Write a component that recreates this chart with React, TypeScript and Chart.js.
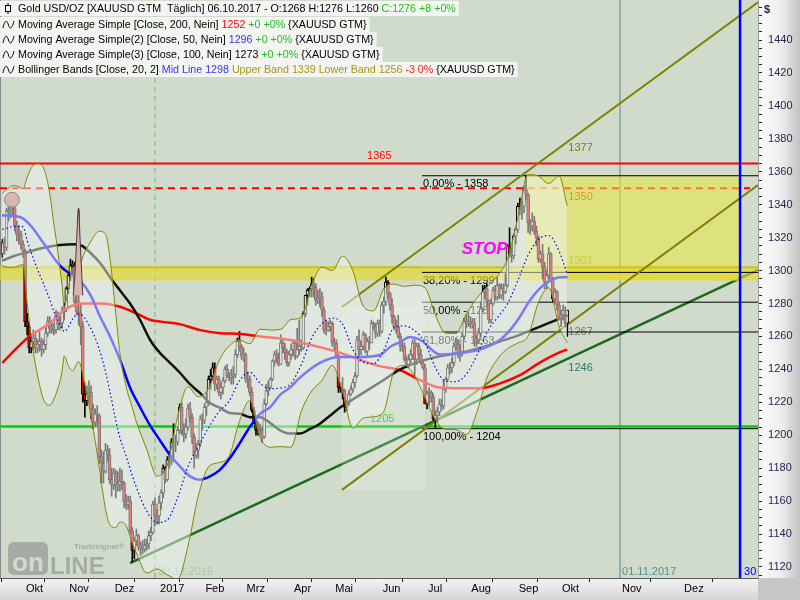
import React, { useEffect, useRef } from "react";
import { Chart, registerables } from "chart.js";

Chart.register(...registerables);

// ---------------- data (trading-day index 0 = 19.09.2016) ----------------
const openPrices = [
  1310,1317,1314,1336,1337,1338,1338,1327,1322,1322,
  1316,1312,1269,1266,1253,1257,1259,1253,1255,1257,
  1252,1255,1262,1269,1265,1266,1264,1273,1267,1268,
  1275,1277,1289,1297,1303,1304,1281,1275,1274,1266,
  1225,1221,1225,1226,1216,1208,1213,1212,1187,1183,
  1178,1191,1188,1173,1170,1177,1169,1170,1172,1171,
  1160,1158,1160,1142,1130,1136,1139,1132,1133,1131,
  1133,1134,1139,1141,1158,1151,1151,1159,1165,1180,
  1173,1185,1185,1196,1196,1196,1203,1217,1203,1201,
  1205,1216,1211,1199,1188,1191,1195,1210,1209,1217,
  1220,1234,1236,1241,1231,1234,1226,1229,1233,1240,
  1236,1235,1236,1237,1249,1257,1254,1248,1249,1234,
  1234,1226,1215,1209,1203,1204,1203,1199,1219,1227,
  1229,1234,1245,1249,1247,1243,1256,1253,1250,1244,
  1249,1252,1256,1248,1252,1254,1253,1274,1285,1288,
  1289,1292,1290,1282,1283,1284,1276,1264,1264,1266,
  1268,1256,1256,1248,1229,1228,1227,1217,1219,1225,
  1228,1232,1236,1258,1252,1254,1261,1251,1257,1256,
  1268,1266,1262,1268,1263,1279,1281,1293,1286,1279,
  1272,1266,1266,1260,1254,1254,1246,1243,1246,1249,
  1256,1246,1254,1249,1244,1241,1219,1225,1226,1223,
  1210,1212,1214,1219,1218,1228,1234,1241,1241,1244,
  1254,1255,1250,1250,1260,1269,1268,1269,1267,1268,
  1257,1258,1262,1277,1287,1289,1282,1270,1280,1288,
  1284,1291,1285,1289,1287,1291,1315,1310,1309,1321,
  1325,1339,1339,1339,1349,1346,1329,1327,1330,1324,
  1320,1307,1310,1302,1293,1297,1310,1294,1283,1287,
  1279,1270,1273,1276,1268,
];
const highPrices = [
  1319,1320,1338,1343,1342,1341,1339,1330,1327,1324,
  1318,1313,1274,1268,1261,1264,1262,1258,1263,1259,
  1258,1265,1272,1272,1269,1268,1276,1275,1272,1278,
  1280,1290,1298,1307,1306,1305,1285,1337,1280,1269,
  1232,1230,1233,1230,1219,1216,1218,1213,1191,1190,
  1195,1194,1192,1180,1180,1179,1178,1180,1179,1172,
  1164,1163,1163,1144,1138,1143,1140,1135,1136,1137,
  1137,1142,1144,1160,1162,1155,1163,1167,1182,1181,
  1187,1190,1198,1207,1200,1205,1219,1220,1207,1210,
  1219,1220,1213,1201,1195,1197,1212,1213,1219,1226,
  1236,1240,1244,1244,1236,1236,1232,1235,1242,1243,
  1238,1240,1242,1252,1259,1263,1255,1253,1250,1238,
  1236,1229,1217,1212,1208,1207,1205,1222,1231,1233,
  1235,1246,1251,1252,1250,1261,1258,1256,1252,1251,
  1255,1258,1258,1265,1270,1258,1275,1285,1289,1290,
  1296,1295,1292,1288,1289,1287,1278,1270,1269,1270,
  1269,1259,1258,1249,1232,1235,1228,1221,1227,1230,
  1234,1238,1260,1264,1257,1263,1262,1259,1260,1270,
  1269,1268,1270,1270,1281,1284,1296,1294,1287,1283,
  1273,1270,1273,1262,1257,1256,1248,1249,1252,1258,
  1258,1256,1256,1252,1246,1243,1227,1229,1227,1225,
  1215,1217,1222,1222,1233,1235,1243,1244,1247,1256,
  1259,1258,1255,1262,1271,1273,1275,1272,1271,1271,
  1261,1265,1281,1291,1291,1292,1282,1283,1290,1291,
  1296,1292,1292,1292,1298,1316,1326,1314,1322,1326,
  1341,1344,1342,1351,1358,1347,1331,1335,1333,1327,
  1321,1312,1316,1305,1300,1314,1311,1296,1289,1288,
  1281,1276,1279,1278,1276,
];
const lowPrices = [
  1308,1310,1312,1330,1332,1333,1324,1318,1316,1313,
  1308,1266,1261,1250,1250,1252,1250,1250,1251,1248,
  1250,1252,1260,1262,1262,1261,1262,1264,1264,1265,
  1270,1275,1286,1294,1297,1278,1273,1267,1255,1220,
  1211,1218,1220,1210,1204,1205,1205,1183,1171,1171,
  1177,1184,1171,1163,1167,1162,1166,1166,1167,1156,
  1155,1155,1140,1123,1125,1133,1130,1127,1128,1129,
  1130,1131,1136,1140,1145,1146,1146,1155,1162,1171,
  1172,1180,1182,1184,1190,1194,1201,1200,1196,1198,
  1203,1208,1195,1180,1186,1186,1193,1203,1207,1212,
  1218,1228,1233,1227,1228,1224,1222,1225,1232,1235,
  1233,1231,1231,1235,1247,1251,1246,1245,1232,1229,
  1224,1214,1207,1200,1200,1200,1196,1198,1218,1224,
  1228,1233,1242,1244,1242,1243,1250,1246,1242,1242,
  1246,1248,1246,1247,1249,1251,1252,1272,1279,1284,
  1284,1284,1279,1280,1278,1272,1262,1261,1263,1263,
  1254,1251,1247,1226,1226,1222,1214,1215,1218,1224,
  1226,1229,1235,1245,1249,1252,1250,1248,1252,1256,
  1264,1259,1260,1260,1262,1274,1279,1283,1276,1268,
  1264,1262,1259,1251,1251,1245,1241,1241,1244,1246,
  1236,1243,1246,1243,1240,1219,1216,1218,1220,1209,
  1204,1208,1212,1215,1216,1226,1233,1237,1238,1242,
  1252,1247,1245,1248,1258,1265,1266,1265,1265,1254,
  1254,1256,1260,1275,1283,1278,1268,1268,1279,1282,
  1282,1283,1283,1282,1286,1290,1308,1305,1307,1316,
  1323,1334,1331,1335,1343,1323,1322,1324,1322,1315,
  1305,1305,1295,1289,1289,1295,1294,1281,1280,1276,
  1270,1266,1270,1266,1260,
];
const closePrices = [
  1317,1314,1336,1337,1338,1338,1327,1322,1322,1316,
  1312,1269,1266,1253,1257,1259,1253,1255,1257,1252,
  1255,1262,1269,1265,1266,1264,1273,1267,1268,1275,
  1277,1289,1297,1303,1304,1281,1275,1274,1266,1225,
  1221,1225,1226,1216,1208,1213,1212,1187,1183,1178,
  1191,1188,1173,1170,1177,1169,1170,1172,1171,1160,
  1158,1160,1142,1130,1136,1139,1132,1133,1131,1133,
  1134,1139,1141,1158,1151,1151,1159,1165,1180,1173,
  1185,1185,1196,1196,1196,1203,1217,1203,1201,1205,
  1216,1211,1199,1188,1191,1195,1210,1209,1217,1220,
  1234,1236,1241,1231,1234,1226,1229,1233,1240,1236,
  1235,1236,1237,1249,1257,1254,1248,1249,1234,1234,
  1226,1215,1209,1203,1204,1203,1199,1219,1227,1229,
  1234,1245,1249,1247,1243,1256,1253,1250,1244,1249,
  1252,1256,1248,1252,1254,1253,1274,1285,1288,1289,
  1292,1290,1282,1283,1284,1276,1264,1264,1266,1268,
  1256,1256,1248,1229,1228,1227,1217,1219,1225,1228,
  1232,1236,1258,1252,1254,1261,1251,1257,1256,1268,
  1266,1262,1268,1263,1279,1281,1293,1286,1279,1272,
  1266,1266,1260,1254,1254,1246,1243,1246,1249,1256,
  1246,1254,1249,1244,1241,1219,1225,1226,1223,1210,
  1212,1214,1219,1218,1228,1234,1241,1241,1244,1254,
  1255,1250,1250,1260,1269,1268,1269,1267,1268,1257,
  1258,1262,1277,1287,1289,1282,1270,1280,1288,1284,
  1291,1285,1289,1287,1291,1315,1310,1309,1321,1325,
  1339,1339,1339,1349,1346,1329,1327,1330,1324,1320,
  1307,1310,1302,1293,1297,1310,1294,1283,1287,1279,
  1270,1273,1276,1268,1276,
];

// Bollinger Bands (20,2) read at sample bars
const bandIdx = [0,3,5,8,10,12,15,17,20,23,25,26,28,29,30,32,34,37,40,42,45,47,50,52,55,57,60,63,65,70,75,80,85,90,95,100,105,110,115,120,125,130,135,140,145,150,155,160,165,170,175,180,185,190,195,200,205,210,215,220,225,230,235,240,245,250,255,260,265,270,274];
const bandUpper = [1347,1350,1351.6,1351,1349.6,1356.6,1364,1364.8,1362.3,1346.6,1328,1319.6,1300.7,1290.3,1278.1,1289.2,1301.9,1302.7,1311.4,1315.8,1321.8,1323.9,1322.1,1309.1,1273.9,1249.7,1229.6,1216.8,1208.1,1191.5,1175.2,1182,1211.4,1229.4,1223.4,1228.4,1245,1254.2,1257.8,1255.5,1264.4,1263.9,1264.3,1270.3,1271.4,1291.2,1302.1,1300,1308.7,1299.9,1278.4,1275.6,1288.9,1291.8,1290.4,1291.1,1289.6,1273,1262,1261.8,1273.6,1283,1290,1296.5,1307,1332,1358.3,1357.4,1352.9,1357.4,1339.3];
const bandMid = [1325,1326,1326.8,1327,1326.6,1318.4,1307.4,1300.8,1291.9,1282.4,1275,1272.4,1266.9,1264.9,1263.1,1265.7,1270.5,1273.7,1271,1267,1259.2,1252.1,1238.7,1227.5,1208.9,1198.5,1187.4,1175.6,1168.3,1153.9,1147,1148.6,1162,1181,1193.2,1204.6,1214.2,1220.8,1233.2,1238.3,1231.6,1228.3,1228.7,1231.5,1243,1259,1267.7,1271.2,1267.5,1252.1,1244.4,1243.4,1251.7,1265.4,1266.4,1263.5,1256.2,1241.2,1232.8,1232.6,1237,1248.2,1262.4,1271.3,1279.8,1294,1309.3,1319,1321.3,1311.8,1297.8];
const bandLower = [1303,1302,1302,1303,1303.6,1280.2,1250.8,1236.7,1221.5,1218.2,1222,1225.2,1233.1,1239.5,1248.1,1242.2,1239.1,1244.7,1230.6,1218.2,1196.6,1180.3,1155.3,1145.9,1143.9,1147.3,1145.2,1134.4,1128.5,1116.3,1118.8,1115.2,1112.6,1132.6,1163,1180.8,1183.4,1187.4,1208.6,1221.1,1198.8,1192.7,1193.1,1192.7,1214.6,1226.8,1233.3,1242.4,1226.3,1204.3,1210.4,1211.2,1214.5,1239,1242.4,1235.9,1222.8,1209.4,1203.6,1203.4,1200.4,1213.4,1234.8,1246.1,1252.6,1256,1260.3,1280.6,1289.7,1266.2,1256.3];

// Moving averages read at sample bars
const ma200Idx = [0,13,23,30,38,48,57,65,72,77,86,95.5,105.5,115.5,125,139,144,154,164,173,183,193,202.5,212,222,231.5,241.5,251,260.5,270.5,274];
const ma200Val = [1244,1260,1268,1276,1280,1280,1278,1274,1270,1269,1267.5,1264,1262,1261.5,1260,1258,1256.5,1253.5,1250,1246,1242,1239.5,1233.5,1229,1228.5,1228.5,1231.5,1236.5,1244,1250.5,1252];
const ma50Idx = [0,8.5,13.4,20.6,27.9,32.8,37.6,42.8,47.4,52.2,57,61.9,66.8,71.6,76.4,81.3,86.2,91,95.8,100.7,105.5,110.3,115.3,120,125,129.8,134.7,139.5,144.3,154,163.7,173.5,183,188,192.9,197.7,202.6,212.3,222,231.6,241.4,246.3,251,255.9,260.8,265.6,270.4,274];
const ma50Val = [1333.5,1332.5,1327.7,1315.5,1303,1298,1294,1285,1272,1260,1246,1229,1217,1206,1197,1188,1181,1175,1173,1175,1179,1186,1195.5,1205,1213,1217,1224.5,1229,1235,1244,1247.5,1247.5,1248.7,1253.6,1256.6,1259.7,1258,1249,1250,1252,1258,1264,1272,1282,1289.4,1293.7,1296,1296];
const ma100Idx = [0,6,13.4,20.6,27.9,35.2,38.6,42.5,47.4,52.2,57,61.9,66.8,71.6,76.4,81.3,86.2,91,95.8,100.7,105.5,110.3,115.3,120,125,129.8,134.7,139.5,144.3,149.2,154,159,164,169,174,183,193,203,212,222,231.5,241.5,251,260.8,270.5,274];
const ma100Val = [1306,1309,1311.6,1314,1315.5,1316,1315,1311,1304.6,1296,1288,1280,1270,1258,1250,1244,1237.8,1231,1225.7,1219.6,1216.6,1213.5,1213,1211,1211,1207.5,1203,1201,1201,1203.8,1207,1212,1217,1221,1225,1232,1240,1245,1248,1250,1253,1257,1261,1266,1271,1273];

// axis
const monthTickIdx = [10,31,53,75,97,117,140,160,183,205,226,249,270,299.1,329.2];
const monthLabels = ["Okt","Nov","Dez","2017","Feb","Mrz","Apr","Mai","Jun","Jul","Aug","Sep","Okt","Nov","Dez"];
const priceLabels = [1120,1140,1160,1180,1200,1220,1240,1260,1280,1300,1320,1340,1360,1380,1400,1420,1440];

// drawing levels
const resistanceLevel = 1365;
const prevHighLevel = 1350;
const supportLevel = 1205.3;
const zoneTop = 1302;
const zoneBottom = 1294;
const targetTop = 1357.6;
const fibValues = [1357.6, 1298.9, 1280.8, 1262.7, 1204];
const fibLabels = ["0,00% - 1358", "38,20% - 1299", "50,00% - 1281", "61,80% - 1263", "100,00% - 1204"];
const channelIdx = [164.7, 366.5];
const channelUpperVal = [1277.9, 1463];
const channelLowerVal = [1166.8, 1352];
const channelBoxIdx = [164.7, 205];
const trendIdx = [61.9, 366.5];
const trendVal = [1122.4, 1300.4];
const yearEndIdx = 74;
const monthLineIdx = 299.6;
const cycleLineIdx = 357.8;
const swingHighIdx = 4.6;
const swingHighVal = 1343;
const spikeIdx = [34.4, 35.2, 36.0, 36.6, 36.9, 37.3, 38.0, 38.6, 39.0];
const spikeVal = [1285, 1298, 1318, 1334, 1338, 1330, 1310, 1295, 1285];

const X_MIN = -1.16, X_MAX = 366.5, Y_MIN = 1113.3, Y_MAX = 1464.3;
const FONT = "'Liberation Sans', Arial, sans-serif";
const BG = "#d0dbcc";

const pts = (xs: number[], ys: number[]) => xs.map((x, i) => ({ x, y: ys[i] }));
const seg = (x0: number, y0: number, x1: number, y1: number) => [{ x: x0, y: y0 }, { x: x1, y: y1 }];
const base = { pointRadius: 0, pointHoverRadius: 0, fill: false, tension: 0 };

function txt(ctx: any, s: string, x: number, y: number, color: string, font: string, align = "left", baseline = "alphabetic") {
  ctx.fillStyle = color;
  ctx.font = font;
  ctx.textAlign = align;
  ctx.textBaseline = baseline;
  ctx.fillText(s, x, y);
}

const bgPlugin = {
  id: "bgPlugin",
  beforeDraw(chart: any) {
    const { ctx, chartArea: a, width, height } = chart;
    ctx.save();
    ctx.fillStyle = BG;
    ctx.fillRect(a.left, a.top, a.right - a.left, a.bottom - a.top);
    const g = ctx.createLinearGradient(a.right, 0, width, 0);
    g.addColorStop(0, "#fbfbfb");
    g.addColorStop(0.55, "#eeeeee");
    g.addColorStop(1, "#c2c2c2");
    ctx.fillStyle = g;
    ctx.fillRect(a.right, 0, width - a.right, a.bottom);
    const g2 = ctx.createLinearGradient(0, a.bottom, 0, height);
    g2.addColorStop(0, "#f4f4f4");
    g2.addColorStop(1, "#d6d6d6");
    ctx.fillStyle = g2;
    ctx.fillRect(0, a.bottom, a.right, height - a.bottom);
    ctx.fillStyle = "#c6c6c6";
    ctx.fillRect(a.right, a.bottom, width - a.right, height - a.bottom);
    ctx.fillStyle = "#8a8a8a";
    ctx.fillRect(0, 0, 1, a.bottom);
    ctx.restore();
  },
};

const underTextPlugin = {
  id: "underText",
  beforeDatasetsDraw(chart: any) {
    const { ctx, scales } = chart;
    const X = (v: number) => scales.x.getPixelForValue(v);
    const Y = (v: number) => scales.y.getPixelForValue(v);
    const f11 = `11px ${FONT}`;
    ctx.save();
    // watermark
    ctx.fillStyle = "#a5aca5";
    ctx.beginPath();
    (ctx as any).roundRect(8, 542, 40, 33, 6);
    ctx.fill();
    txt(ctx, "on", 28, 571, "#d2d9d1", `bold 26px ${FONT}`, "center");
    txt(ctx, "LINE", 50, 574, "#a5aca5", `bold 24px ${FONT}`);
    txt(ctx, "Tradesignal\u00ae", 74, 549, "#a5aca5", `bold 8px ${FONT}`);
    // level labels
    txt(ctx, "1365", X(176.9), Y(resistanceLevel) - 2, "#ff0000", f11, "left", "bottom");
    txt(ctx, "1205", X(178.3), Y(supportLevel) - 2, "#10d010", f11, "left", "bottom");
    fibLabels.forEach((s, i) => txt(ctx, s, X(204), Y(fibValues[i]) + 3, "#000000", f11, "left", "top"));
    const rx = X(274) + 1;
    txt(ctx, "1377", rx, Y(1378.2) + 1, "#7e7e00", f11, "left", "top");
    txt(ctx, "1350", rx, Y(prevHighLevel) + 3, "#ff1a00", f11, "left", "top");
    txt(ctx, "1301", rx, Y(zoneTop) - 1, "#b4aa28", f11, "left", "bottom");
    txt(ctx, "1267", rx, Y(1267.1) + 2, "#7a7a5c", f11, "left", "top");
    txt(ctx, "1246", rx, Y(1246.3) + 3, "#2b7a63", f11, "left", "top");
    // date labels
    txt(ctx, "30.12.2016", X(yearEndIdx) + 3, 572, "#a4c8a4", f11, "left", "middle");
    txt(ctx, "01.11.2017", X(monthLineIdx) + 2, 572, "#5a8c8c", f11, "left", "middle");
    txt(ctx, "30", X(cycleLineIdx) + 4, 572, "#0000ff", f11, "left", "middle");
    ctx.restore();
  },
};

const legendRows: [string, string][][] = [
  [["Gold USD/OZ [XAUUSD GTM  T\u00e4glich] 06.10.2017 - O:1268 H:1276 L:1260 ", "#000000"], ["C:1276 +8 +0%", "#22c022"]],
  [["Moving Average Simple [Close, 200, Nein] ", "#000000"], ["1252", "#ff0000"], [" +0 +0%", "#22c022"], [" {XAUUSD GTM}", "#000000"]],
  [["Moving Average Simple(2) [Close, 50, Nein] ", "#000000"], ["1296", "#3333ff"], [" +0 +0%", "#22c022"], [" {XAUUSD GTM}", "#000000"]],
  [["Moving Average Simple(3) [Close, 100, Nein] 1273", "#000000"], [" +0 +0%", "#22c022"], [" {XAUUSD GTM}", "#000000"]],
  [["Bollinger Bands [Close, 20, 2] ", "#000000"], ["Mid Line 1298", "#3333ff"], [" Upper Band 1339 Lower Band 1256", "#a89414"], [" -3 0%", "#ff2020"], [" {XAUUSD GTM}", "#000000"]],
];

const overTextPlugin = {
  id: "overText",
  afterDraw(chart: any) {
    const { ctx, scales } = chart;
    const X = (v: number) => scales.x.getPixelForValue(v);
    const Y = (v: number) => scales.y.getPixelForValue(v);
    ctx.save();
    txt(ctx, "STOP", X(233.9), Y(1313), "#ff00ff", `italic bold 17px ${FONT}`, "center", "middle");
    // legend
    const f = `10.7px ${FONT}`;
    ctx.font = f;
    const tops = [1, 17, 32, 47, 62];
    legendRows.forEach((runs, r) => {
      const top = tops[r];
      let w = 18;
      ctx.font = f;
      runs.forEach(([s]) => (w += ctx.measureText(s).width));
      ctx.fillStyle = "rgba(244,246,242,0.96)";
      ctx.fillRect(0, top, w + 3, 15);
      let x = 18;
      runs.forEach(([s, c]) => {
        txt(ctx, s, x, top + 8, c, f, "left", "middle");
        x += ctx.measureText(s).width;
      });
      ctx.strokeStyle = "#000";
      ctx.lineWidth = 1;
      if (r === 0) {
        ctx.strokeRect(5.5, top + 4.5, 5, 6);
        ctx.beginPath();
        ctx.moveTo(8, top + 2);
        ctx.lineTo(8, top + 4.5);
        ctx.moveTo(8, top + 10.5);
        ctx.lineTo(8, top + 13);
        ctx.stroke();
      } else {
        ctx.beginPath();
        ctx.moveTo(3, top + 11);
        ctx.bezierCurveTo(5, top + 2, 7, top + 3, 8.5, top + 8);
        ctx.bezierCurveTo(10, top + 13, 12, top + 12, 14, top + 4);
        ctx.stroke();
      }
    });
    txt(ctx, "$", 764, 10, "#262650", `bold 11px ${FONT}`, "left", "middle");
    ctx.restore();
  },
};

export default function App() {
  const ref = useRef<HTMLCanvasElement | null>(null);
  useEffect(() => {
    document.body.style.margin = "0";
    Chart.defaults.font.family = FONT;

    const wickData = closePrices.map((c, i) => ({ x: i, y: [lowPrices[i], highPrices[i]] }));
    const bodyData = closePrices.map((c, i) => ({ x: i, y: [openPrices[i], c] }));
    const bodyColors = closePrices.map((c, i) => (c < openPrices[i] ? "#e00000" : BG));

    const full = (v: number) => seg(X_MIN, v, X_MAX, v);
    const vert = (x: number) => seg(x, Y_MIN, x, Y_MAX);

    const datasets: any[] = [
      { ...base, type: "line", data: [{ x: swingHighIdx, y: swingHighVal }], pointRadius: 7.5, pointBackgroundColor: "rgba(214,180,172,0.95)", pointBorderColor: "#9a8480", pointBorderWidth: 1, showLine: false, order: 1 },
      { ...base, type: "line", data: pts(spikeIdx, spikeVal), fill: "shape", backgroundColor: "#d8b4ac", borderColor: "#4a3a3a", borderWidth: 1, order: 2 },
      { ...base, type: "line", data: pts(bandIdx, bandMid), borderColor: "#0000ff", borderWidth: 1.2, borderDash: [1.5, 2.5], cubicInterpolationMode: "monotone", order: 3 },
      { ...base, type: "line", data: pts(bandIdx, bandUpper), borderColor: "#868600", borderWidth: 1, cubicInterpolationMode: "monotone", order: 4 },
      { ...base, type: "line", data: pts(bandIdx, bandLower), borderColor: "#868600", borderWidth: 1, cubicInterpolationMode: "monotone", fill: "-1", backgroundColor: "rgba(240,243,240,0.5)", order: 5 },
      { ...base, type: "line", data: vert(cycleLineIdx), borderColor: "#0000ff", borderWidth: 2.5, order: 9 },
      { ...base, type: "line", data: pts(ma50Idx, ma50Val), borderColor: "#0000ff", borderWidth: 2.5, cubicInterpolationMode: "monotone", order: 10 },
      { ...base, type: "line", data: pts(ma100Idx, ma100Val), borderColor: "#111111", borderWidth: 2.5, cubicInterpolationMode: "monotone", order: 11 },
      { ...base, type: "line", data: pts(ma200Idx, ma200Val), borderColor: "#ff0000", borderWidth: 2.5, cubicInterpolationMode: "monotone", order: 12 },
      { type: "bar", data: bodyData, backgroundColor: bodyColors, borderColor: "#000000", borderWidth: 1, borderSkipped: false, barThickness: 3, grouped: false, order: 13 },
      { type: "bar", data: wickData, backgroundColor: "#000000", borderWidth: 0, barThickness: 1, grouped: false, order: 14 },
      { ...base, type: "line", data: pts(channelIdx, channelUpperVal), borderColor: "#808000", borderWidth: 2, order: 16 },
      { ...base, type: "line", data: pts(channelIdx, channelLowerVal), borderColor: "#808000", borderWidth: 2, order: 17 },
      ...fibValues.map((v, i) => ({ ...base, type: "line", data: seg(203.5, v, X_MAX, v), borderColor: "#000000", borderWidth: 1, order: 18 + i })),
      { ...base, type: "line", data: full(zoneTop), borderColor: "#cdc312", borderWidth: 2, order: 24 },
      { ...base, type: "line", data: full(zoneTop), borderWidth: 0, fill: { value: zoneBottom }, backgroundColor: "rgba(226,214,40,0.66)", order: 25 },
      { ...base, type: "line", data: seg(253.5, targetTop, cycleLineIdx, targetTop), borderWidth: 0, fill: { value: zoneBottom }, backgroundColor: "rgba(232,232,62,0.55)", order: 26 },
      { ...base, type: "line", data: seg(channelBoxIdx[0], channelUpperVal[0], channelBoxIdx[1], channelUpperVal[0]), borderWidth: 0, fill: { value: channelLowerVal[0] }, backgroundColor: "rgba(242,246,240,0.22)", order: 27 },
      { ...base, type: "line", data: pts(trendIdx, trendVal), borderColor: "#1c6b1c", borderWidth: 2.5, order: 28 },
      { ...base, type: "line", data: full(supportLevel), borderColor: "#00d000", borderWidth: 2.5, order: 29 },
      { ...base, type: "line", data: seg(X_MIN, prevHighLevel, 362.6, prevHighLevel), borderColor: "#ff0000", borderWidth: 2, borderDash: [7, 5], order: 30 },
      { ...base, type: "line", data: full(resistanceLevel), borderColor: "#ff0000", borderWidth: 2, order: 31 },
      { ...base, type: "line", data: vert(monthLineIdx), borderColor: "#5a8585", borderWidth: 1, order: 32 },
      { ...base, type: "line", data: vert(yearEndIdx), borderColor: "#70b870", borderWidth: 1, borderDash: [5, 4], order: 33 },
    ];

    const yTicks: number[] = [];
    for (let v = 1115; v <= 1460; v += 5) yTicks.push(v);

    const chart = new Chart(ref.current as HTMLCanvasElement, {
      type: "line",
      data: { datasets },
      options: {
        responsive: false,
        animation: false,
        devicePixelRatio: 1,
        events: [],
        layout: { padding: 0, autoPadding: false },
        plugins: {
          legend: { display: false },
          tooltip: { enabled: false },
          filler: { drawTime: "beforeDatasetDraw", propagate: false },
        },
        scales: {
          x: {
            type: "linear",
            position: "bottom",
            min: X_MIN,
            max: X_MAX,
            offset: false,
            afterBuildTicks: (s: any) => {
              s.ticks = monthTickIdx.map((v) => ({ value: v }));
            },
            afterFit: (s: any) => {
              s.height = 22;
            },
            grid: { drawOnChartArea: false, drawTicks: true, tickLength: 4, tickColor: "#222", color: "#222" },
            border: { display: true, color: "#5a5a5a" },
            ticks: {
              autoSkip: false,
              maxRotation: 0,
              align: "start",
              labelOffset: 3,
              padding: 0,
              color: "#000",
              font: { size: 11, family: FONT },
              callback: (_v: any, i: number) => monthLabels[i],
            },
          },
          y: {
            type: "linear",
            position: "right",
            min: Y_MIN,
            max: Y_MAX,
            afterBuildTicks: (s: any) => {
              s.ticks = yTicks.map((v) => ({ value: v }));
            },
            afterFit: (s: any) => {
              s.width = 42;
            },
            grid: { drawOnChartArea: false, drawTicks: true, tickLength: 4, tickColor: "#222", color: "#222" },
            border: { display: true, color: "#9a9a9a" },
            ticks: {
              autoSkip: false,
              padding: 0,
              color: "#262650",
              font: { size: 11, family: FONT, lineHeight: 0.01 },
              callback: (v: any) => (priceLabels.indexOf(Number(v)) >= 0 ? "  " + v : ""),
            },
          },
        },
      } as any,
      plugins: [bgPlugin, underTextPlugin, overTextPlugin],
    } as any);
    return () => chart.destroy();
  }, []);

  return (
    <div style={{ width: 800, height: 600 }}>
      <canvas ref={ref} width={800} height={600} style={{ display: "block", width: 800, height: 600 }} />
    </div>
  );
}
